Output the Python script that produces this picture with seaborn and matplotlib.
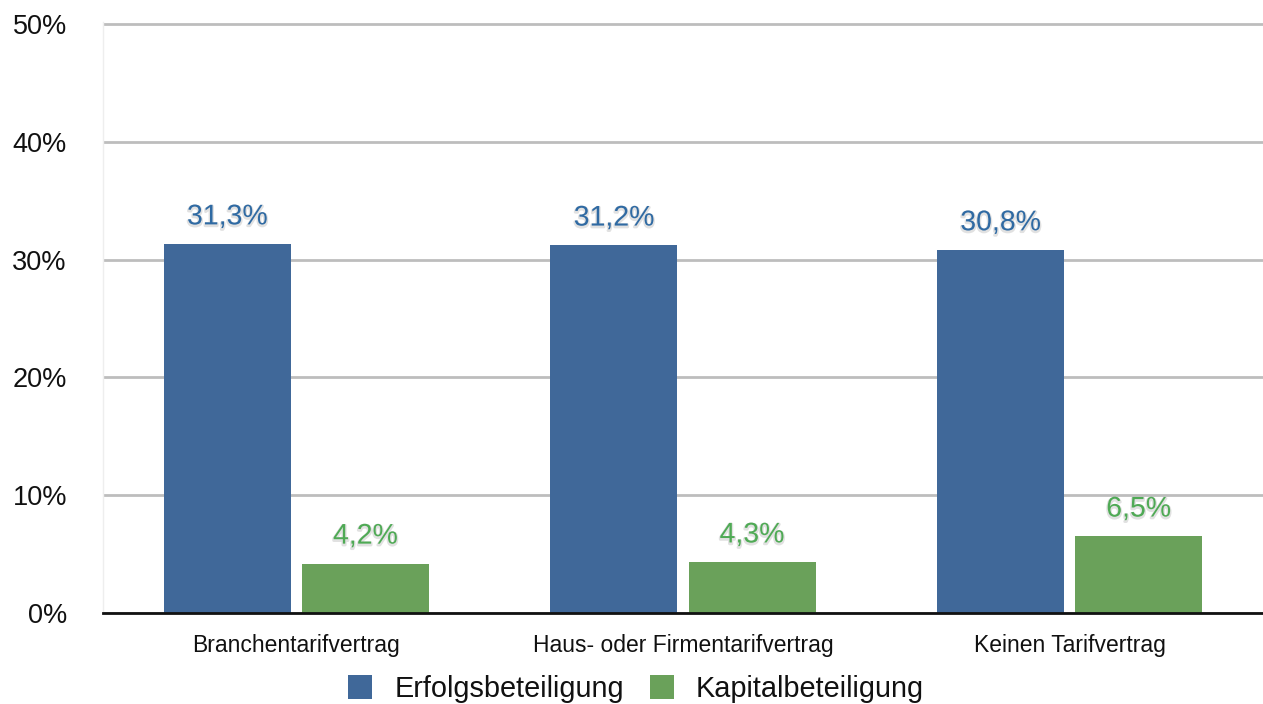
import matplotlib
matplotlib.use("Agg")
import matplotlib.pyplot as plt
import matplotlib.patheffects as pe
import seaborn as sns
import pandas as pd

categories = ["Branchentarifvertrag", "Haus- oder Firmentarifvertrag", "Keinen Tarifvertrag"]
series_names = ["Erfolgsbeteiligung", "Kapitalbeteiligung"]
erfolg = [31.3, 31.2, 30.8]
kapital = [4.2, 4.3, 6.5]
yticks = [0, 10, 20, 30, 40, 50]

bar_colors = ["#406899", "#6aa15a"]
label_colors = ["#2f6aa3", "#4faa55"]

df = pd.DataFrame({
    "Kategorie": categories * 2,
    "Serie": [series_names[0]] * 3 + [series_names[1]] * 3,
    "Wert": erfolg + kapital,
})

sns.set_theme(style="white")
plt.rcParams["font.family"] = ["Liberation Sans", "DejaVu Sans"]

fig = plt.figure(figsize=(12.63, 7.04), dpi=100)
ax = fig.add_axes([103 / 1263, (704 - 613) / 704, 1 - 103 / 1263, (613 - 22) / 704])

sns.barplot(data=df, x="Kategorie", y="Wert", hue="Serie", order=categories,
            hue_order=series_names, palette=bar_colors, width=0.714, gap=0.08,
            saturation=1, linewidth=0, ax=ax, legend=True)

ax.set_ylim(0, 50 * (613 - 22) / (613 - 24))
ax.set_xlim(-0.5, 2.5)
ax.set_yticks(yticks)
ax.set_yticklabels([f"{t}%" for t in yticks], fontsize=19.5, color="#111111")
ax.yaxis.grid(True, color="#bdbdbd", linewidth=2)
ax.set_axisbelow(True)
ax.tick_params(axis="y", length=0, pad=26)
ax.tick_params(axis="x", length=0, pad=15, labelsize=16.5, labelcolor="#111111")
ax.set_xlabel("")
ax.set_ylabel("")

for s in ["top", "right"]:
    ax.spines[s].set_visible(False)
ax.spines["left"].set_color("#eeeeee")
ax.spines["left"].set_linewidth(1)
ax.spines["bottom"].set_color("#111111")
ax.spines["bottom"].set_linewidth(2)

for cont, col in zip(ax.containers, label_colors):
    labels = [f"{v:.1f}%".replace(".", ",") for v in cont.datavalues]
    txts = ax.bar_label(cont, labels=labels, padding=10, fontsize=20.5, color=col)
    for t in txts:
        t.set_path_effects([pe.SimpleLineShadow(offset=(0, -1), shadow_color="#888888", alpha=0.25, linewidth=2), pe.Normal()])

handles, lbls = ax.get_legend_handles_labels()
leg = ax.legend(handles, lbls, loc="center", ncol=2, frameon=False, fontsize=20.8,
                handlelength=0.85, handleheight=0.85, handletextpad=0.75,
                columnspacing=0.9)
leg.set_bbox_to_anchor((636 / 1263, (704 - 689) / 704), transform=fig.transFigure)
for txt in leg.get_texts():
    txt.set_color("#111111")

fig.savefig("out.png", dpi=100)
